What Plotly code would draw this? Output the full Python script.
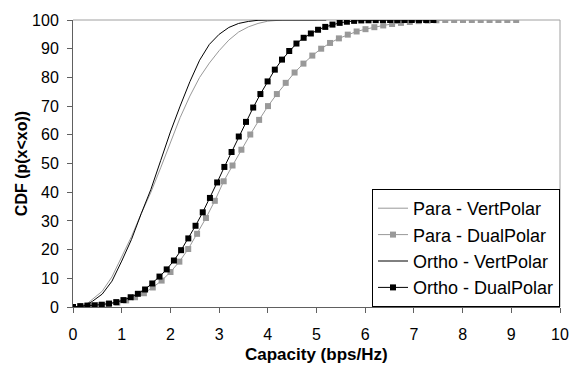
import plotly.graph_objects as go

# Para - VertPolar (thin gray line)
para_vert_x = [0, 0.15, 0.3, 0.4, 0.6, 0.8, 1.0, 1.2, 1.4, 1.6, 1.8, 2.0, 2.2, 2.4, 2.6, 2.8,
               3.0, 3.2, 3.4, 3.6, 3.8, 4.0, 4.3, 5.0]
para_vert_y = [0, 0.3, 1.3, 2.6, 5.5, 10.5, 17.5, 24.5, 32.5, 40, 48.5, 57.5, 66, 73.5, 80, 85,
               89.3, 93, 95.8, 97.6, 98.8, 99.6, 100, 100]

# Ortho - VertPolar (thin black line)
ortho_vert_x = [0, 0.2, 0.3, 0.4, 0.6, 0.8, 1.0, 1.2, 1.4, 1.6, 1.8, 2.0, 2.2, 2.4, 2.6, 2.8,
                3.0, 3.2, 3.4, 3.6, 3.8, 4.0, 5.2]
ortho_vert_y = [0, 0.2, 1.0, 2.0, 4.5, 9.0, 16, 23.5, 32.5, 41, 51, 61, 70, 78.5, 86, 91.5,
                95, 97.4, 98.8, 99.5, 99.9, 100, 100]

# Para - DualPolar (gray squares), bins of 0.182
para_dual_step = 0.182
para_dual_y = [0, 0.2, 0.4, 0.6, 1.0, 1.5, 2.3, 3.4, 4.8, 6.8, 9.2, 12.2, 15.8, 20.2, 25.5, 31,
               37, 43.8, 49.3, 54.8, 60.1, 65.2, 70, 74.2, 78.1, 81.7, 84.8, 87.6, 90, 92,
               93.6, 94.9, 96, 96.8, 97.5, 98.1, 98.6, 99.0, 99.3, 99.6, 99.8, 99.9,
               100, 100, 100, 100, 100, 100, 100, 100, 100]
para_dual_x = [round(i * para_dual_step, 3) for i in range(len(para_dual_y))]

# Ortho - DualPolar (black squares), bins of 0.148
ortho_dual_step = 0.148
ortho_dual_y = [0, 0.3, 0.5, 0.6, 0.8, 1.2, 1.7, 2.4, 3.4, 4.6, 6.1, 8.2, 10.6, 13.1, 16.2, 19.8,
                23.9, 28.3, 33, 38, 43.4, 48.8, 54, 59.4, 64.5, 69.5, 74.2, 78.6, 82.7, 86.2,
                89.2, 91.8, 93.8, 95.3, 96.6, 97.6, 98.4, 99.0, 99.4, 99.7, 99.85, 99.9, 99.95,
                100, 100, 100, 100, 100, 100, 100, 100]
ortho_dual_x = [round(i * ortho_dual_step, 3) for i in range(len(ortho_dual_y))]

x_ticks = list(range(0, 11))
y_ticks = list(range(0, 101, 10))

FONT = "Arial, 'Liberation Sans', sans-serif"
GRAY = "#999999"
AXIS = "#606060"
BORDER = "#a0a0a0"

fig = go.Figure()
fig.add_trace(go.Scatter(x=para_vert_x, y=para_vert_y, mode="lines", name="Para - VertPolar",
                         line=dict(color=GRAY, width=1), legendgroup="a"))
fig.add_trace(go.Scatter(x=para_dual_x, y=para_dual_y, mode="lines+markers", name="Para - DualPolar",
                         line=dict(color=GRAY, width=1),
                         marker=dict(symbol="square", size=6, color=GRAY), legendgroup="b"))
fig.add_trace(go.Scatter(x=ortho_vert_x, y=ortho_vert_y, mode="lines", name="Ortho - VertPolar",
                         line=dict(color="black", width=1), legendgroup="c"))
fig.add_trace(go.Scatter(x=ortho_dual_x, y=ortho_dual_y, mode="lines+markers", name="Ortho - DualPolar",
                         line=dict(color="black", width=1),
                         marker=dict(symbol="square", size=6, color="black"), legendgroup="d"))

# top and right plot-area border (lighter gray)
fig.add_shape(type="line", xref="paper", yref="paper", x0=0, x1=1, y0=1, y1=1,
              line=dict(color=BORDER, width=1), layer="below")
fig.add_shape(type="line", xref="paper", yref="paper", x0=1, x1=1, y0=0, y1=1,
              line=dict(color=BORDER, width=1), layer="below")

# x-axis title
fig.add_annotation(text="<b>Capacity (bps/Hz)</b>", xref="paper", yref="paper",
                   x=0.5, y=-0.166, xanchor="center", yanchor="middle", showarrow=False,
                   font=dict(family=FONT, size=17, color="black"))

fig.update_layout(
    width=580, height=365,
    margin=dict(l=73, r=20, t=14, b=58),
    paper_bgcolor="white", plot_bgcolor="white",
    font=dict(family=FONT, size=16, color="black"),
    showlegend=True,
    legend=dict(x=1, y=0, xanchor="right", yanchor="bottom",
                bordercolor="black", borderwidth=1, bgcolor="white",
                font=dict(family=FONT, size=18, color="black"),
                tracegroupgap=0, itemwidth=30),
)
fig.update_xaxes(range=[0, 10], tickvals=x_ticks, showgrid=False, zeroline=False,
                 showline=True, linecolor=AXIS, linewidth=1,
                 ticks="outside", ticklen=5, tickcolor=AXIS, ticklabelstandoff=8,
                 tickfont=dict(family=FONT, size=16), automargin=False)
fig.update_yaxes(range=[0, 100], tickvals=y_ticks, showgrid=False, zeroline=False,
                 showline=True, linecolor=AXIS, linewidth=1,
                 ticks="outside", ticklen=5, tickcolor=AXIS, ticklabelstandoff=5,
                 tickfont=dict(family=FONT, size=16),
                 title=dict(text="<b>CDF (p(x<xo))</b>", font=dict(family=FONT, size=16), standoff=0))

fig.write_html("out.html")
